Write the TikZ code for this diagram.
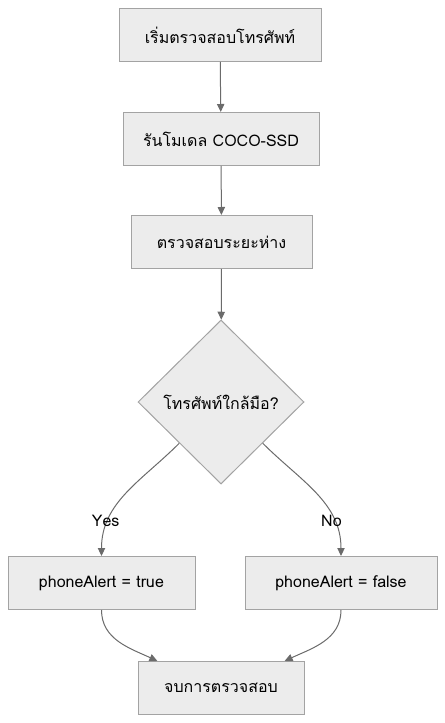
\documentclass[tikz,border=0pt]{standalone}
\usepackage{fontspec}
\newfontfamily\thaifont[Script=Thai]{Loma}
\usetikzlibrary{shapes.geometric, arrows.meta, positioning}
\definecolor{boxfill}{HTML}{ECECEC}
\definecolor{boxline}{HTML}{A3A3A3}
\definecolor{linkgray}{HTML}{6B6B6B}

\begin{document}
\begin{tikzpicture}[
    x=0.75pt, y=-0.75pt,
    proc/.style={draw=boxline, fill=boxfill, line width=0.75pt, minimum height=39.75pt, inner xsep=4pt, font=\thaifont\fontsize{12}{14}\selectfont},
    decision/.style={diamond, aspect=1, draw=boxline, fill=boxfill, line width=0.75pt, minimum width=124.5pt, minimum height=123pt, inner sep=0pt, font=\thaifont\fontsize{12}{14}\selectfont},
    arrow/.style={-{Triangle[length=6pt, width=5.5pt]}, linkgray, line width=0.75pt},
    lbl/.style={font=\thaifont\fontsize{12}{14}\selectfont, text=black, inner sep=1pt}
]
\useasboundingbox (0,0) rectangle (445,723);

% Main column
\node[proc, minimum width=151.5pt] (start) at (220,35)  {เริ่มตรวจสอบโทรศัพท์};
\node[proc, minimum width=147pt]   (model) at (221,139) {รันโมเดล COCO-SSD};
\node[proc, minimum width=135.75pt] (dist) at (221.5,242) {ตรวจสอบระยะห่าง};
\node[decision] (near) at (221,402) {โทรศัพท์ใกล้มือ?};

% Branches
\node[proc, minimum width=140.25pt] (alerton)  at (101.5,583) {phoneAlert = true};
\node[proc, minimum width=144pt]    (alertoff) at (341,583)   {phoneAlert = false};
\node[proc, minimum width=124.5pt]  (finish)   at (221,688)   {จบการตรวจสอบ};

% Straight arrows down the column
\draw[arrow] (start) -- (model);
\draw[arrow] (model) -- (dist);
\draw[arrow] (dist) -- (near);

% Curved arrows out of the decision
\draw[arrow] (near.south west) to[out=-135, in=90] node[lbl, pos=0.75, xshift=-2pt] {Yes} (alerton.north);
\draw[arrow] (near.south east) to[out=-45, in=90] node[lbl, pos=0.75, xshift=-2pt] {No} (alertoff.north);

% Curved arrows into the end node
\draw[arrow] (alerton.south) to[out=-90, in=155] (finish.157);
\draw[arrow] (alertoff.south) to[out=-90, in=25] (finish.23);

\end{tikzpicture}
\end{document}
